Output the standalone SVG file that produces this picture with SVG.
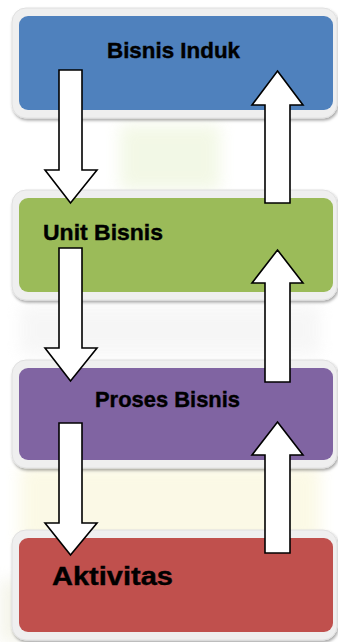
<svg xmlns="http://www.w3.org/2000/svg" width="338" height="642" viewBox="0 0 338 642">
  <defs>
    <filter id="blur" x="-20%" y="-20%" width="140%" height="140%"><feGaussianBlur stdDeviation="8"/></filter>
    <filter id="shadow" x="-5%" y="-5%" width="110%" height="120%"><feDropShadow dx="1" dy="2" stdDeviation="1.5" flood-color="#000" flood-opacity="0.35"/></filter>
  </defs>
  <style>
    .frame { fill: #efefef; stroke: #e0e0e0; stroke-width: 1; }
    .arrow { fill: #ffffff; stroke: #000000; stroke-width: 1.6; stroke-linejoin: miter; }
    .lbl { font-family: "Liberation Sans", Arial, sans-serif; font-weight: bold; fill: #000000; stroke: #000000; stroke-width: 0.4; }
  </style>
  <rect width="338" height="642" fill="#ffffff"/>
  <g id="background" filter="url(#blur)" opacity="0.45">
    <rect x="120" y="125" width="100" height="65" fill="#e4f0c8"/>
    <rect x="20" y="305" width="300" height="50" fill="#ececec"/>
    <rect x="20" y="465" width="300" height="80" fill="#f7f3c8"/>
    <rect x="0" y="580" width="25" height="62" fill="#e8e8d0"/>
  </g>
  <g id="node-bisnis-induk">
    <rect class="frame" x="12" y="8" width="325" height="110" rx="14" filter="url(#shadow)"/>
    <rect x="19" y="16" width="314" height="94" rx="9" fill="#4f81bd"/>
    <text class="lbl" x="173.5" y="57.5" font-size="22" text-anchor="middle" textLength="133" lengthAdjust="spacingAndGlyphs">Bisnis Induk</text>
  </g>
  <g id="node-unit-bisnis">
    <rect class="frame" x="12" y="190" width="325" height="110" rx="14" filter="url(#shadow)"/>
    <rect x="19" y="198" width="314" height="94" rx="9" fill="#9bbb59"/>
    <text class="lbl" x="43" y="239.5" font-size="22" textLength="120" lengthAdjust="spacingAndGlyphs">Unit Bisnis</text>
  </g>
  <g id="node-proses-bisnis">
    <rect class="frame" x="12" y="360" width="325" height="108" rx="14" filter="url(#shadow)"/>
    <rect x="19" y="368" width="314" height="92" rx="9" fill="#8064a2"/>
    <text class="lbl" x="95" y="407" font-size="22" textLength="145" lengthAdjust="spacingAndGlyphs">Proses Bisnis</text>
  </g>
  <g id="node-aktivitas">
    <rect class="frame" x="12" y="530" width="325" height="110" rx="14" filter="url(#shadow)"/>
    <rect x="19" y="538" width="314" height="94" rx="9" fill="#c0504d"/>
    <text class="lbl" x="52" y="585" font-size="26" textLength="121" lengthAdjust="spacingAndGlyphs">Aktivitas</text>
  </g>
  <g id="connectors">
    <polygon class="arrow" points="59,70 82,70 82,170 97,170 70.5,203 45,170 59,170"/>
    <polygon class="arrow" points="59,248 82,248 82,348 97,348 70.5,381 45,348 59,348"/>
    <polygon class="arrow" points="59,423 82,423 82,523 97,523 70.5,555 45,523 59,523"/>
    <polygon class="arrow" points="277.5,71 303,105 290,105 290,203 265,203 265,105 252,105"/>
    <polygon class="arrow" points="277.5,250 303,283 290,283 290,382 265,382 265,283 252,283"/>
    <polygon class="arrow" points="277.5,422 303,455 290,455 290,553 265,553 265,455 252,455"/>
  </g>
</svg>
